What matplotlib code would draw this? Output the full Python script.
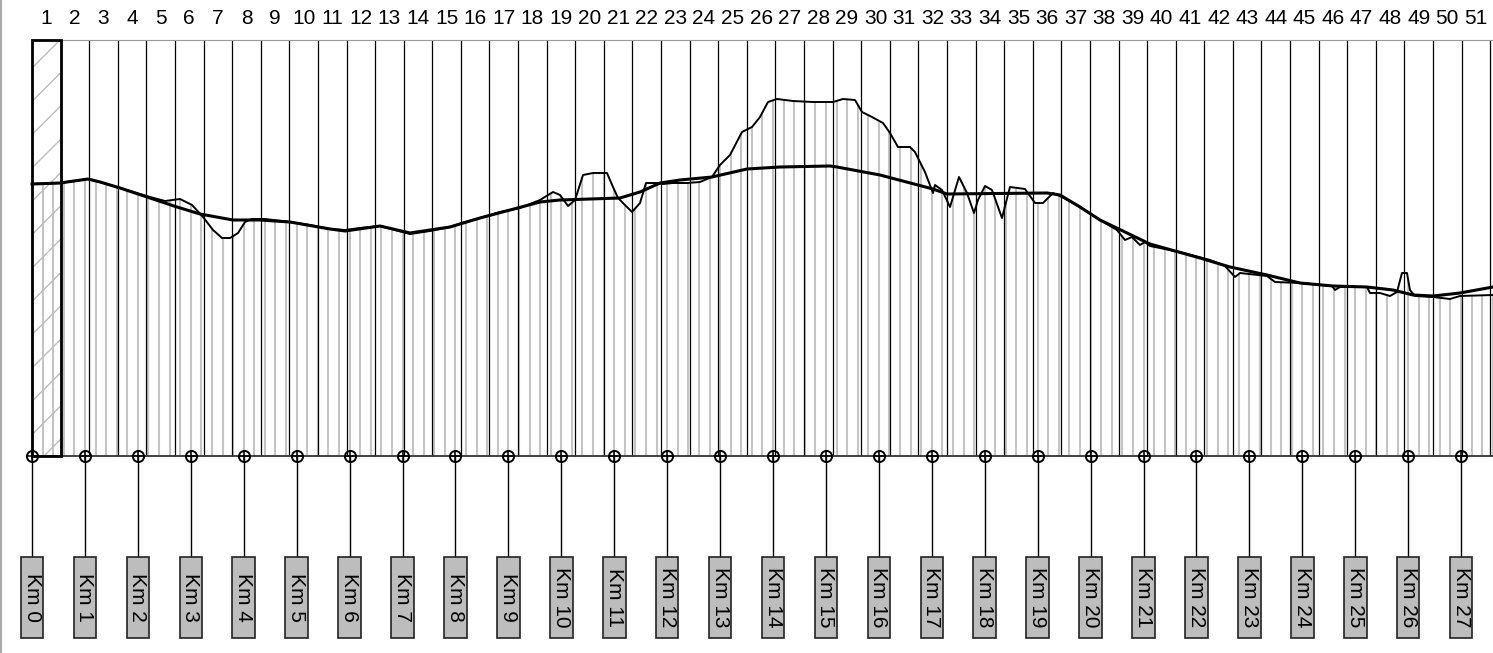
import numpy as np
import matplotlib
matplotlib.use("Agg")
import matplotlib.pyplot as plt
from matplotlib.patches import Rectangle

# chainage in km, heights in m above the datum line
terrain_km = [0.000, 0.529, 1.058, 1.285, 1.663, 2.229, 2.513, 2.796, 3.023, 3.231,
              3.420, 3.590, 3.741, 3.892, 4.024, 4.156, 4.402, 4.874, 5.252, 5.630,
              5.914, 6.197, 6.575, 6.858, 7.142, 7.519, 7.897, 8.181, 8.464, 8.842,
              9.220, 9.598, 9.843, 9.975, 10.127, 10.259, 10.410, 10.599, 10.863, 10.977,
              11.071, 11.336, 11.487, 11.600, 11.808, 11.921, 12.110, 12.375, 12.620, 12.847,
              12.998, 13.187, 13.414, 13.603, 13.754, 13.905, 14.075, 14.378, 14.755, 15.133,
              15.322, 15.549, 15.681, 15.870, 16.078, 16.210, 16.361, 16.588, 16.682, 16.871,
              17.023, 17.060, 17.193, 17.344, 17.514, 17.665, 17.797, 17.873, 18.005, 18.137,
              18.326, 18.477, 18.761, 18.950, 19.101, 19.290, 19.460, 19.800, 20.178, 20.499,
              20.650, 20.782, 20.933, 21.028, 21.122, 21.689, 22.256, 22.539, 22.728, 22.823,
              23.333, 23.484, 23.956, 24.561, 24.618, 24.712, 25.222, 25.279, 25.468, 25.657,
              25.789, 25.883, 25.978, 26.034, 26.129, 26.469, 26.790, 26.979, 27.603]
terrain_h = [272, 273, 277, 274, 268, 259, 255, 257, 251, 239,
             226, 218, 218, 223, 234, 237, 237, 234, 231, 227,
             226, 228, 230, 226, 222, 225, 229, 234, 238, 244,
             248, 256, 264, 261, 250, 256, 281, 283, 283, 269,
             258, 244, 253, 273, 273, 272, 273, 273, 274, 279,
             291, 301, 324, 329, 339, 354, 357, 355, 354, 354,
             357, 356, 344, 339, 333, 323, 309, 309, 304, 284,
             263, 271, 266, 249, 279, 263, 243, 256, 270, 266,
             238, 269, 267, 253, 253, 263, 259, 249, 236, 226,
             216, 219, 211, 214, 210, 204, 196, 190, 179, 183,
             180, 174, 173, 170, 166, 169, 169, 163, 163, 160,
             164, 183, 183, 166, 160, 159, 157, 160, 161]

grade_km = [0.000, 0.529, 1.058, 1.285, 1.663, 2.229, 2.739, 3.174, 3.797, 4.308,
            4.874, 5.630, 5.914, 6.575, 7.142, 7.897, 8.464, 9.031, 9.598, 9.975,
            11.109, 11.487, 11.865, 12.243, 12.847, 13.508, 14.132, 15.077, 15.209, 16.021,
            17.023, 17.287, 19.177, 19.422, 19.800, 20.178, 21.122, 22.067, 22.634, 23.333,
            23.956, 24.580, 25.222, 25.713, 26.091, 26.469, 26.979, 27.603]
grade_h = [272, 273, 277, 274, 268, 258, 249, 242, 236, 236,
           234, 227, 225, 230, 223, 229, 238, 246, 254, 256,
           258, 264, 273, 276, 279, 287, 289, 290, 289, 281,
           267, 262, 263, 261, 249, 236, 212, 198, 189, 181,
           173, 170, 169, 166, 161, 160, 163, 169]

section_numbers = list(range(1, 52))
km_posts = list(range(0, 28))

COL_W = 0.5402
TOP = 416

plt.rcParams["font.family"] = ["Liberation Sans", "DejaVu Sans"]
plt.rcParams["hatch.linewidth"] = 1.0

fig = plt.figure(figsize=(14.93, 6.53), dpi=100)
ax = fig.add_axes([0, 0, 1, 1])
ax.set_xlim(-0.605, 27.603)
ax.set_ylim(-197, 456)
ax.axis("off")

# gray hatching under the terrain, every 200 m
hx = np.arange(0.0, 27.61, 0.2)
ht = np.interp(hx, terrain_km, terrain_h)
ax.vlines(hx, 0, ht, color="#c4c4c4", lw=1.5, zorder=1)

# section columns
edges = np.arange(len(section_numbers) + 1) * COL_W
ax.vlines(edges, 0, TOP, color="black", lw=0.9, zorder=2)
ax.hlines(TOP, 0, 27.603, color="#9a9a9a", lw=0.8, zorder=2)
ax.hlines(0, 0, 27.603, color="#333333", lw=1.3, zorder=2)
for i, n in enumerate(section_numbers):
    ax.text((i + 0.5) * COL_W, 437, str(n), ha="center", va="center",
            fontsize=15, color="black")

# first section, hatched
ax.add_patch(Rectangle((0, 0), COL_W, TOP, facecolor="none", edgecolor="#bcbcbc",
                       hatch="/", lw=0, zorder=3))
ax.add_patch(Rectangle((0, 0), COL_W, TOP, facecolor="none", edgecolor="black",
                       lw=2.0, zorder=4))

# profile lines
ax.plot(terrain_km, terrain_h, color="black", lw=1.4, zorder=5)
ax.plot(grade_km, grade_h, color="black", lw=2.2, zorder=6)

# km posts
for k in km_posts:
    ax.plot([k, k], [0, -101], color="black", lw=1.0, zorder=5)
    ax.plot(k, 0, marker="o", ms=8, mfc="none", mec="black", mew=1.4, zorder=7)
    ax.plot(k, 0, marker="+", ms=8, mec="black", mew=1.1, zorder=7)
    ax.add_patch(Rectangle((k - 0.213, -182), 0.426, 81, facecolor="#bdbdbd",
                           edgecolor="#222222", lw=1.2, zorder=6))
    ax.text(k, -141.5, "Km %d" % k, rotation=-90, ha="center", va="center",
            fontsize=15, color="black", zorder=8)

# sheet border
ax.vlines(-0.586, -197, 456, color="#9a9a9a", lw=1.2)

fig.savefig("out.png", dpi=100)
